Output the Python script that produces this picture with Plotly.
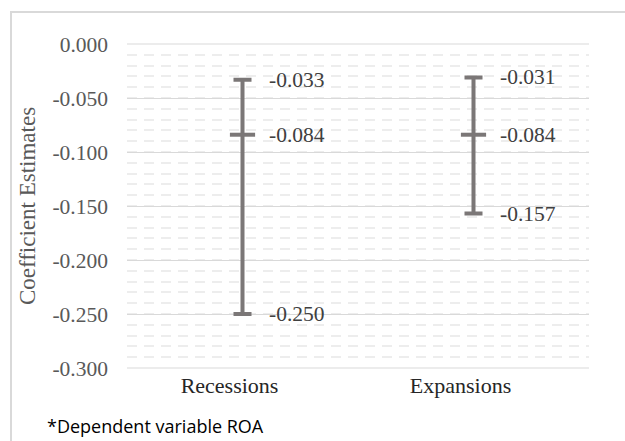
import plotly.graph_objects as go

categories = ["Recessions", "Expansions"]
means = [-0.084, -0.084]
upper = [-0.033, -0.031]
lower = [-0.250, -0.157]
y_ticks = [0.0, -0.05, -0.10, -0.15, -0.20, -0.25, -0.30]
y_tick_labels = ["0.000", "-0.050", "-0.100", "-0.150", "-0.200", "-0.250", "-0.300"]

bar_color = "#7b7777"
serif = "Liberation Serif"

fig = go.Figure()
fig.add_trace(go.Scatter(
    x=categories, y=means, mode="markers",
    marker=dict(symbol="line-ew", size=18, line=dict(width=4, color=bar_color), color=bar_color),
    error_y=dict(type="data", symmetric=False,
                 array=[u - m for u, m in zip(upper, means)],
                 arrayminus=[m - l for m, l in zip(means, lower)],
                 thickness=4, width=9, color=bar_color),
    showlegend=False, hoverinfo="skip",
))

W, H = 625, 441
l, r, t, b = 127, 36, 44, 73
pw, ph = W - l - r, H - t - b
def px(xp):
    return (xp - l) / pw
def py(yp):
    return (H - b - yp) / ph

annotations = []
for c, vals in zip(categories, zip(upper, means, lower)):
    for v in vals:
        annotations.append(dict(x=c, y=v, xref="x", yref="y", text=f"{v:.3f}",
                                showarrow=False, xanchor="left", yanchor="middle",
                                xshift=24, font=dict(family=serif, size=21.5, color="#404040")))
annotations.append(dict(x=px(45), y=py(440), xref="paper", yref="paper", text="*Dependent variable ROA",
                        showarrow=False, xanchor="left", yanchor="bottom",
                        font=dict(family="Open Sans", size=18, color="#000000")))
# partial title glyph at very top (cropped in the original)
annotations.append(dict(x=px(0), y=py(-1), xref="paper", yref="paper", text="<b>Fig</b>",
                        showarrow=False, xanchor="left", yanchor="bottom",
                        font=dict(family=serif, size=19, color="#000000")))

shapes = [dict(type="rect", xref="paper", yref="paper",
               x0=px(11), x1=px(640), y0=py(460), y1=py(12),
               line=dict(color="#d9d9d9", width=2), fillcolor="rgba(0,0,0,0)", layer="below")]

fig.update_layout(
    width=W, height=H,
    margin=dict(l=l, r=r, t=t, b=b),
    paper_bgcolor="white", plot_bgcolor="white",
    annotations=annotations, shapes=shapes,
    xaxis=dict(type="category", showgrid=False, zeroline=False, showline=False,
               ticks="", tickfont=dict(family=serif, size=22, color="#262626"),
               ticklabelshift=-13, ticklabelstandoff=2, range=[-0.5, 1.5]),
    yaxis=dict(range=[-0.3, 0.0], tickvals=y_ticks, ticktext=y_tick_labels,
               showgrid=True, gridcolor="#d9d9d9", gridwidth=1, zeroline=False,
               showline=False, ticks="", ticklabelstandoff=18,
               tickfont=dict(family=serif, size=21.5, color="#595959"),
               title=dict(text="Coefficient Estimates", standoff=10,
                          font=dict(family=serif, size=23, color="#595959")),
               minor=dict(dtick=0.01, showgrid=True, gridcolor="#ededed", griddash="10px,7px", gridwidth=2)),
)
fig.add_shape(type="line", xref="paper", yref="paper", x0=0, x1=1, y0=0, y1=0,
              line=dict(color="#d9d9d9", width=1))
fig.add_shape(type="line", xref="paper", yref="paper", x0=0, x1=1, y0=1, y1=1,
              line=dict(color="#d9d9d9", width=1))
fig.write_html("out.html")
